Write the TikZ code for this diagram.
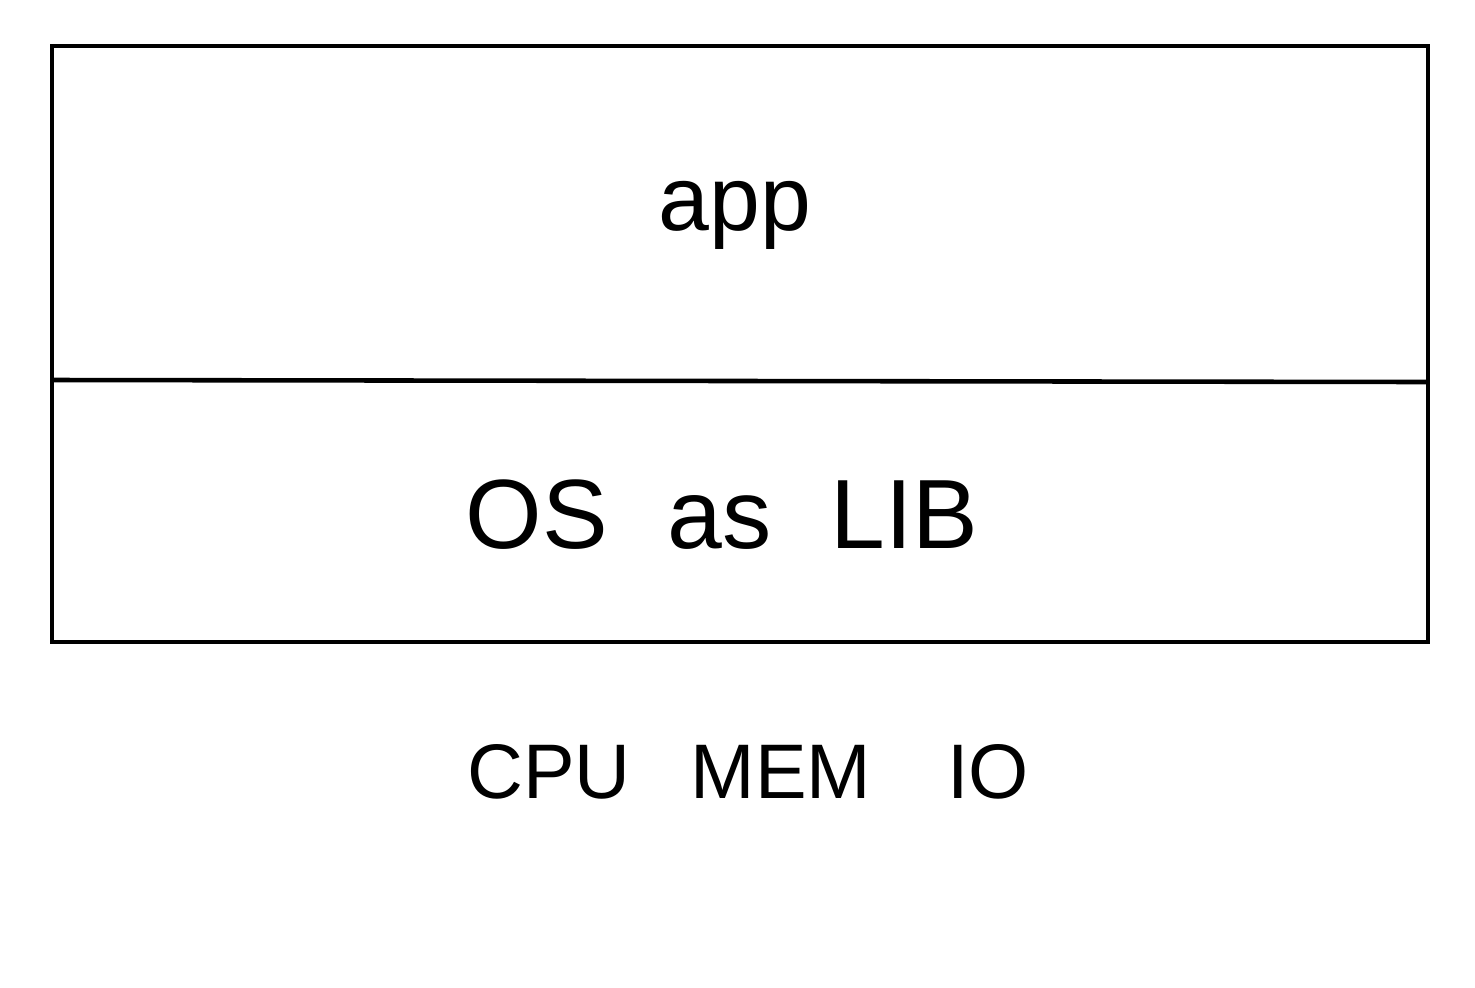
\documentclass[tikz,border=0pt]{standalone}
\usepackage{fontspec}
\setmainfont{Liberation Sans}
\begin{document}
\begin{tikzpicture}[x=0.01cm,y=-0.01cm,
  layer/.style={draw=black,line width=1.3pt},
  lbl/.style={inner sep=0pt,anchor=center}]
\useasboundingbox (0,0) rectangle (1475,987);
\fill[white] (0,0) rectangle (1475,987);
\coordinate (tl) at (52,46);
\coordinate (br) at (1428,642);
\coordinate (ml) at (52,380);
\coordinate (mr) at (1428,382);
\draw[layer] (tl) rectangle (br);
\draw[layer] (ml) -- (mr);
\node[lbl,font=\fontsize{26}{30}\selectfont] (app) at (735,215) {app};
\node[lbl,font=\fontsize{28}{33}\selectfont] (os) at (722,515) {OS\hspace{0.6em}as\hspace{0.6em}LIB};
\node[lbl,font=\fontsize{22}{26}\selectfont] (cpu) at (549,772) {CPU};
\node[lbl,font=\fontsize{22}{26}\selectfont] (mem) at (781,772) {MEM};
\node[lbl,font=\fontsize{22}{26}\selectfont] (io) at (988,772) {IO};
\end{tikzpicture}
\end{document}
